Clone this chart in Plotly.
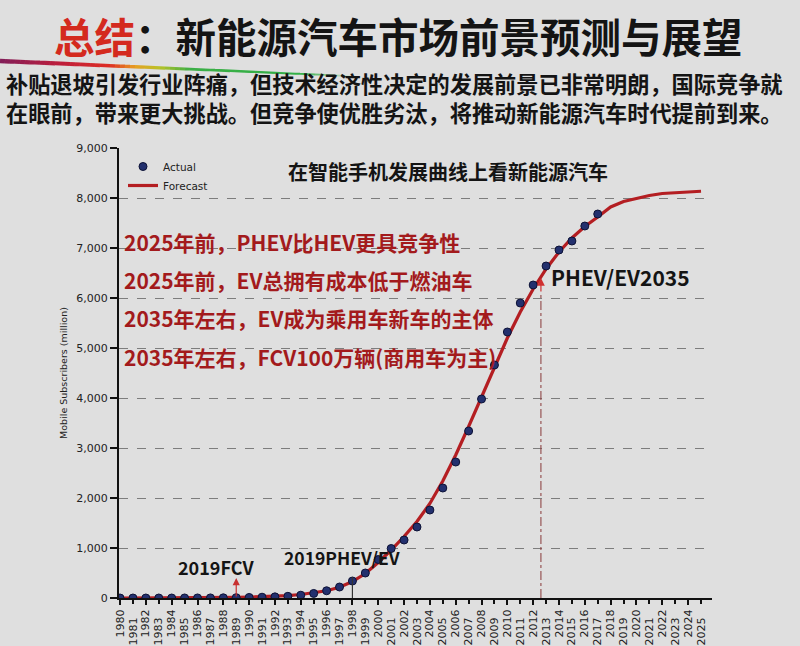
import plotly.graph_objects as go

# ---------------- data ----------------
years_actual = list(range(1980, 2018))
actual = [0, 0, 0, 0, 0, 1, 1, 2, 4, 7,
          11, 16, 23, 34, 56, 91, 145, 220, 340, 500,
          770, 990, 1160, 1420, 1760, 2200, 2720, 3340, 3980, 4660,
          5320, 5900, 6260, 6640, 6960, 7140, 7440, 7680]

years_forecast = list(range(1980, 2026))
forecast = [0, 0, 1, 1, 2, 3, 4, 6, 8, 12,
            17, 24, 34, 48, 70, 100, 145, 215, 330, 490,
            710, 960, 1230, 1530, 1890, 2340, 2860, 3430, 4030, 4630,
            5200, 5720, 6180, 6580, 6920, 7200, 7430, 7620, 7820, 7930,
            7990, 8050, 8090, 8110, 8125, 8135]

tick_years = list(range(1980, 2026))
even_years = [y for y in tick_years if y % 2 == 0]
odd_years = [y for y in tick_years if y % 2 == 1]
y_ticks = [0, 1000, 2000, 3000, 4000, 5000, 6000, 7000, 8000, 9000]

title_red = "总结"
title_black = "：新能源汽车市场前景预测与展望"
sub_line1 = "补贴退坡引发行业阵痛，但技术经济性决定的发展前景已非常明朗，国际竞争就"
sub_line2 = "在眼前，带来更大挑战。但竞争使优胜劣汰，将推动新能源汽车时代提前到来。"
chart_title = "在智能手机发展曲线上看新能源汽车"
red_notes = ["2025年前，PHEV比HEV更具竞争性",
             "2025年前，EV总拥有成本低于燃油车",
             "2035年左右，EV成为乘用车新车的主体",
             "2035年左右，FCV100万辆(商用车为主)"]
fcv_label, fcv_year, fcv_top = "2019FCV", 1989.0, 400
phev19_label, phev19_year, phev19_top = "2019PHEV/EV", 1998, 420
phev35_label, phev35_year, phev35_top = "PHEV/EV2035", 2012.6, 6400

# ---------------- geometry helpers ----------------
W, H = 800, 646
L, R, T, B = 119, 712, 148, 598      # plot area as seen in the picture
PW, PH = R - L, B - T


def px(x):
    return (x - L) / PW


def py(y):
    return (B - y) / PH


CJK = "Noto Sans CJK SC"
LAT = "DejaVu Sans"
BG = "#dfdfdf"
INK = "#141414"

fig = go.Figure()

fig.add_trace(go.Scatter(
    x=years_forecast, y=forecast, mode="lines", name="Forecast",
    line=dict(color="#b41e22", width=3.2), legendrank=2))
fig.add_trace(go.Scatter(
    x=years_actual, y=actual, mode="markers", name="Actual",
    marker=dict(symbol="circle", size=8, color="#23306e",
                line=dict(color="#0d1236", width=1)), legendrank=1))
# carrier for the second (odd-year) label row
fig.add_trace(go.Scatter(x=odd_years, y=[None] * len(odd_years), xaxis="x2", yaxis="y",
                         mode="lines", showlegend=False, hoverinfo="skip"))

axis_font = dict(size=11, family=LAT, color="#222")
xrange = [1979.92, 2025.85]

fig.update_layout(
    width=W, height=H,
    margin=dict(l=L, r=W - R, t=T, b=H - B, pad=0),
    paper_bgcolor=BG, plot_bgcolor=BG,
    font=dict(family=LAT, color="#222"),
    showlegend=True,
    legend=dict(x=px(123), y=py(152), xanchor="left", yanchor="top",
                bgcolor="rgba(0,0,0,0)", font=dict(size=10.5, family=LAT, color="#222"),
                itemwidth=30, tracegroupgap=0),
    xaxis=dict(range=xrange, tickmode="array", tickvals=even_years,
               ticktext=[str(y) for y in even_years], tickangle=-90, tickfont=axis_font,
               showline=True, linecolor="#111", linewidth=2, ticks="outside",
               ticklen=5, tickwidth=1.5, tickcolor="#111", showgrid=False,
               zeroline=False, automargin=False),
    xaxis2=dict(range=xrange, overlaying="x", anchor="y", side="bottom", matches="x",
                tickmode="array", tickvals=odd_years, ticktext=[str(y) for y in odd_years],
                tickangle=-90, tickfont=axis_font, showline=False, ticks="outside",
                ticklen=5, tickwidth=1.5, tickcolor="#111", showgrid=False,
                zeroline=False, ticklabelstandoff=9, automargin=False),
    yaxis=dict(range=[0, 9000], tickvals=y_ticks, tickformat=",d",
               tickfont=axis_font,
               showline=True, linecolor="#111", linewidth=2, ticks="outside",
               ticklen=7, tickwidth=1.5, tickcolor="#111",
               showgrid=True, gridcolor="#7d7d7d", griddash="dash", gridwidth=1,
               zeroline=False, automargin=False,
               title=dict(text="Mobile Subscribers (million)", standoff=7,
                          font=dict(size=9.5, family=LAT, color="#222"))),
)

ann = []
# main title
ann.append(dict(xref="paper", yref="paper", x=px(52), y=py(35), xanchor="left", yanchor="middle",
                text=f"<b><span style='color:#d42a1e'>{title_red}</span>{title_black}</b>",
                showarrow=False, font=dict(size=40.5, family=CJK, color=INK)))
# subtitle (two lines)
ann.append(dict(xref="paper", yref="paper", x=px(4), y=py(97), xanchor="left", yanchor="middle",
                align="left", text=f"<b>{sub_line1}<br>{sub_line2}</b>", showarrow=False,
                font=dict(size=22.2, family=CJK, color=INK)))
# chart title
ann.append(dict(xref="paper", yref="paper", x=px(448), y=py(171), xanchor="center", yanchor="middle",
                text=f"<b>{chart_title}</b>", showarrow=False,
                font=dict(size=20, family=CJK, color=INK)))
# red notes
for txt, yy in zip(red_notes, [242, 280, 318, 357]):
    ann.append(dict(xref="paper", yref="paper", x=px(122), y=py(yy), xanchor="left", yanchor="middle",
                    text=f"<b>{txt}</b>", showarrow=False,
                    font=dict(size=21, family=CJK, color="#a31a1c")))
# black labels
ann.append(dict(xref="paper", yref="paper", x=px(216), y=py(567), xanchor="center", yanchor="middle",
                text=f"<b>{fcv_label}</b>", showarrow=False,
                font=dict(size=18, family=CJK, color=INK)))
ann.append(dict(xref="paper", yref="paper", x=px(342), y=py(557), xanchor="center", yanchor="middle",
                text=f"<b>{phev19_label}</b>", showarrow=False,
                font=dict(size=17.5, family=CJK, color=INK)))
ann.append(dict(xref="paper", yref="paper", x=px(549), y=py(277), xanchor="left", yanchor="middle",
                text=f"<b>{phev35_label}</b>", showarrow=False,
                font=dict(size=21, family=CJK, color=INK)))
# arrows
ann.append(dict(xref="x", yref="y", x=fcv_year, y=fcv_top, axref="x", ayref="y",
                ax=fcv_year, ay=0, text="", showarrow=True, arrowhead=2, arrowsize=1.2,
                arrowwidth=1.2, arrowcolor="#c83030"))
ann.append(dict(xref="x", yref="y", x=phev35_year, y=phev35_top, axref="x", ayref="y",
                ax=phev35_year, ay=phev35_top - 300, text="", showarrow=True, arrowhead=2,
                arrowsize=1.3, arrowwidth=1.2, arrowcolor="#d03030"))
fig.update_layout(annotations=ann)

shapes = []
shapes.append(dict(type="line", xref="x", yref="y", x0=phev35_year, x1=phev35_year,
                   y0=0, y1=phev35_top - 300, line=dict(color="#8a3a3a", width=1, dash="dashdot")))
shapes.append(dict(type="line", xref="x", yref="y", x0=phev19_year, x1=phev19_year,
                   y0=0, y1=phev19_top, line=dict(color="#333", width=1.2)))

# colourful swoosh under the title
stops = [(0, (130, 30, 90)), (60, (190, 30, 60)), (110, (222, 45, 35)), (135, (232, 160, 35)),
         (160, (185, 195, 40)), (190, (60, 175, 70)), (300, (50, 175, 70)), (350, (210, 225, 210))]
n = 70
x0p, x1p, y0p, y1p = 0, 350, 61, 76
for i in range(n):
    a = i / n
    b = (i + 1) / n
    xa = x0p + a * (x1p - x0p)
    xb = x0p + b * (x1p - x0p)
    xm = (xa + xb) / 2
    for j in range(len(stops) - 1):
        if stops[j][0] <= xm <= stops[j + 1][0]:
            t = (xm - stops[j][0]) / (stops[j + 1][0] - stops[j][0])
            c = tuple(int(stops[j][1][k] + t * (stops[j + 1][1][k] - stops[j][1][k])) for k in range(3))
            break
    wdt = 4.5 - 3.0 * a
    shapes.append(dict(type="line", xref="paper", yref="paper",
                       x0=px(xa), x1=px(xb), y0=py(y0p + a * (y1p - y0p)), y1=py(y0p + b * (y1p - y0p)),
                       line=dict(color=f"rgb{c}", width=wdt)))
fig.update_layout(shapes=shapes)

fig.write_html("out.html",
               config={"displayModeBar": False},
               post_script="document.body.style.margin='0';document.body.style.background='#dfdfdf';")
